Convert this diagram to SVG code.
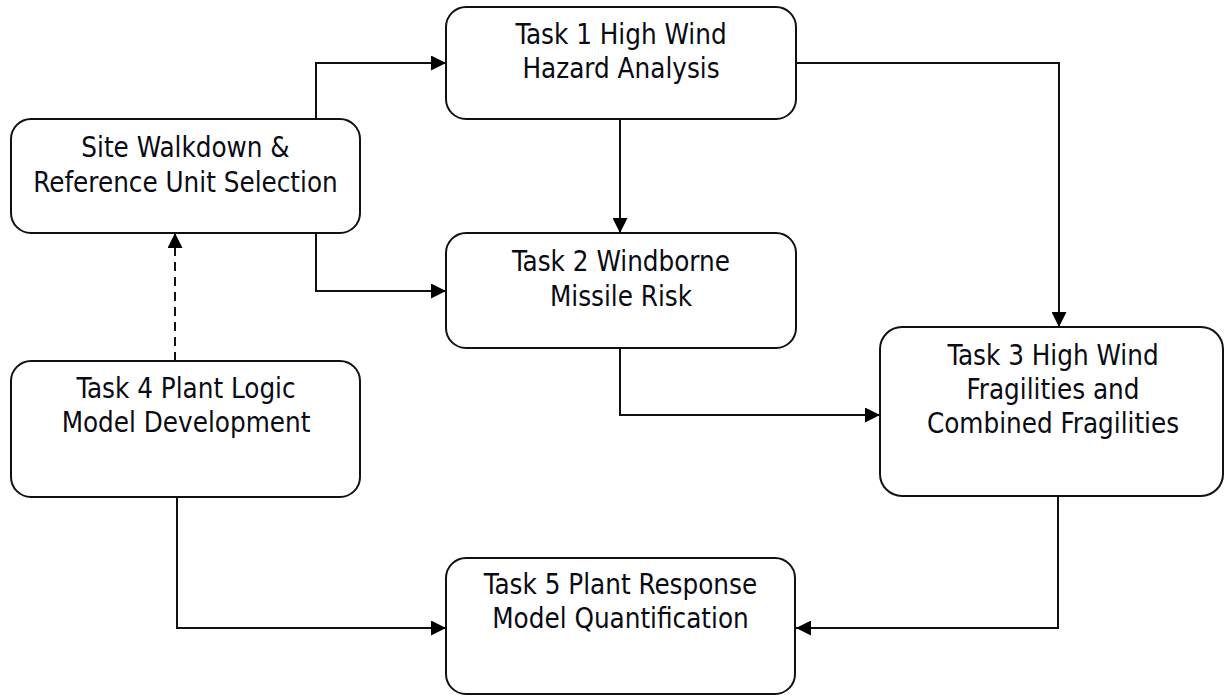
<svg xmlns="http://www.w3.org/2000/svg" width="1225" height="696" viewBox="0 0 1225 696">
  <style>
    .box { fill: #ffffff; stroke: #111111; stroke-width: 2; }
    .lbl { font-family: "DejaVu Sans Condensed", "DejaVu Sans", Tahoma, sans-serif; font-stretch: condensed; font-size: 27.5px; fill: #0a0a14; text-anchor: middle; }
    .wire { fill: none; stroke: #111111; stroke-width: 2; marker-end: url(#arrow); }
    .dash { stroke-dasharray: 9 6; }
  </style>
  <defs>
    <marker id="arrow" viewBox="0 0 15 15" refX="15" refY="7.5" markerWidth="15" markerHeight="15" markerUnits="userSpaceOnUse" orient="auto">
      <path d="M0,0 L15,7.5 L0,15 z" fill="#000000"/>
    </marker>
  </defs>
  <rect width="1225" height="696" fill="#ffffff"/>

  <g id="connectors">
    <path class="wire" d="M316,119 V63 H446"/>
    <path class="wire" d="M316,233 V291 H446"/>
    <path class="wire" d="M620,119 V233"/>
    <path class="wire" d="M796,63 H1059 V327"/>
    <path class="wire" d="M620,348 V415 H880"/>
    <path class="wire dash" d="M175,361 V233"/>
    <path class="wire" d="M177,497 V628 H446"/>
    <path class="wire" d="M1058,496 V628 H796"/>
  </g>

  <g id="site-walkdown">
    <rect class="box" x="11" y="119" width="349" height="114" rx="20"/>
    <text class="lbl" x="185.5" y="157">Site Walkdown &amp;</text>
    <text class="lbl" x="185.5" y="192">Reference Unit Selection</text>
  </g>

  <g id="task1">
    <rect class="box" x="446" y="7" width="350" height="112" rx="20"/>
    <text class="lbl" x="621" y="44">Task 1 High Wind</text>
    <text class="lbl" x="621" y="78">Hazard Analysis</text>
  </g>

  <g id="task2">
    <rect class="box" x="446" y="233" width="350" height="115" rx="20"/>
    <text class="lbl" x="621" y="271">Task 2 Windborne</text>
    <text class="lbl" x="621" y="306">Missile Risk</text>
  </g>

  <g id="task3">
    <rect class="box" x="880" y="327" width="343" height="169" rx="22"/>
    <text class="lbl" x="1053" y="365">Task 3 High Wind</text>
    <text class="lbl" x="1053" y="399">Fragilities and</text>
    <text class="lbl" x="1053" y="433">Combined Fragilities</text>
  </g>

  <g id="task4">
    <rect class="box" x="11" y="361" width="349" height="136" rx="20"/>
    <text class="lbl" x="186" y="398">Task 4 Plant Logic</text>
    <text class="lbl" x="186" y="432">Model Development</text>
  </g>

  <g id="task5">
    <rect class="box" x="446" y="558" width="349" height="136" rx="20"/>
    <text class="lbl" x="620.5" y="594">Task 5 Plant Response</text>
    <text class="lbl" x="620.5" y="628">Model Quantification</text>
  </g>
</svg>
